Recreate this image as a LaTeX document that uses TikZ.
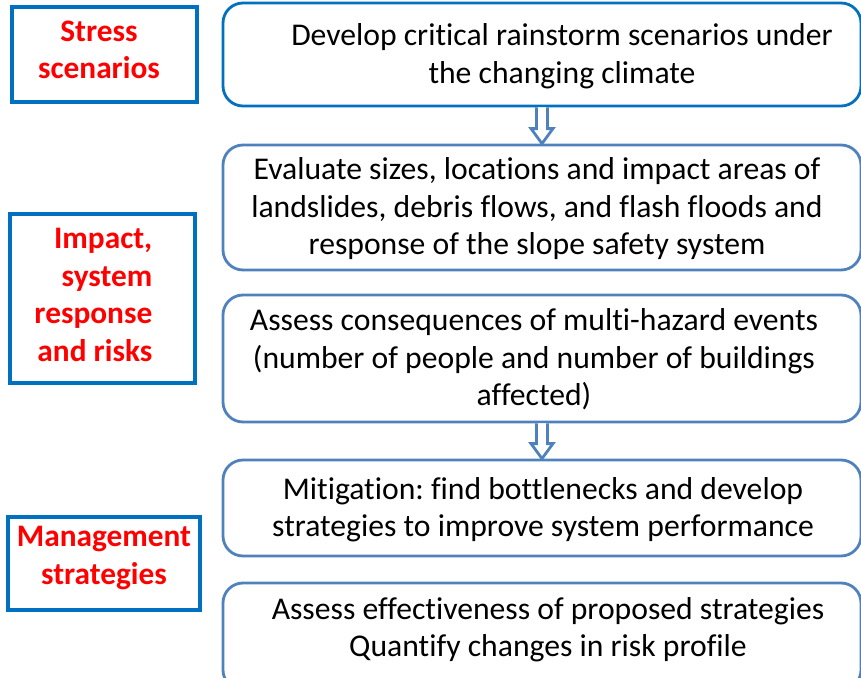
\documentclass[tikz,border=0pt]{standalone}
\usepackage{fontspec}
\setmainfont{Carlito}[Ligatures=NoCommon]
\usetikzlibrary{calc}
\definecolor{labelblue}{HTML}{0070C0}
\definecolor{stepblue}{HTML}{4F81BD}
\definecolor{labelred}{HTML}{FF0000}
\frenchspacing

\begin{document}
\begin{tikzpicture}[
    x=0.75pt, y=-0.75pt,
    every node/.style={align=center},
    stagebox/.style={draw=labelblue, line width=2.3pt, fill=white, inner sep=0pt},
    stagetext/.style={text=labelred, font=\fontsize{23.5}{28.1}\selectfont\bfseries},
    flowbox/.style={draw=stepblue, line width=2.1pt, fill=white, rounded corners=15pt, minimum width=478.5pt, inner sep=0pt},
    flowtext/.style={font=\fontsize{23.75}{28.1}\selectfont},
    hollowarrow/.style={draw=stepblue, line width=2.1pt, fill=white, line join=miter,
        to path={($(\tikztostart)+(-5.5,0)$) -- ($(\tikztotarget)+(-5.5,-15)$) -- ($(\tikztotarget)+(-11,-15)$)
            -- (\tikztotarget) -- ($(\tikztotarget)+(11,-15)$) -- ($(\tikztotarget)+(5.5,-15)$)
            -- ($(\tikztostart)+(5.5,0)$) \tikztonodes}},
]
\clip (0,0) rectangle (861,678);

% ================= LEFT COLUMN: stage labels =================
\node[stagebox, minimum width=138.75pt, minimum height=71.25pt] (stress) at (104.5,54.5) {};
\node[stagetext] (stresstxt) at (99,50) {Stress\\scenarios};

\node[stagebox, minimum width=138.75pt, minimum height=126.75pt] (impact) at (102.5,298.5) {};
\node[stagetext, align=right, anchor=east] (impacttxt) at (157,295) {Impact,\\system\\response\\and risks};

\node[stagebox, minimum width=144pt, minimum height=69.75pt] (manage) at (104,563.5) {};
\node[stagetext] (managetxt) at (104,558) {Management\\strategies};

% ================= RIGHT COLUMN: steps =================
\node[flowbox, draw=labelblue, minimum height=77.25pt] (develop) at (542,54.5) {};
\node[flowtext] (developtxt) at (562,56) {Develop critical rainstorm scenarios under\\the changing climate};

\node[flowbox, minimum height=93.75pt] (evaluate) at (542,207.5) {};
\node[flowtext] (evaluatetxt) at (537,209) {Evaluate sizes, locations and impact areas of\\landslides, debris flows, and flash floods and\\response of the slope safety system};

\node[flowbox, minimum height=95.25pt] (assess) at (542,358.5) {};
\node[flowtext] (assesstxt) at (534,359.5) {Assess consequences of multi-hazard events\\(number of people and number of buildings\\affected)};

\node[flowbox, minimum height=72pt] (mitigate) at (542,508) {};
\node[flowtext] (mitigatetxt) at (543,509.5) {Mitigation: find bottlenecks and develop\\strategies to improve system performance};

\node[flowbox, minimum height=80.25pt] (effect) at (542,636.5) {};
\node[flowtext] (effecttxt) at (548,629.5) {Assess effectiveness of proposed strategies\\Quantify changes in risk profile};

% hollow arrows between steps
\draw[hollowarrow] (develop.south) to (evaluate.north);
\draw[hollowarrow] (assess.south) to (mitigate.north);

\end{tikzpicture}
\end{document}
